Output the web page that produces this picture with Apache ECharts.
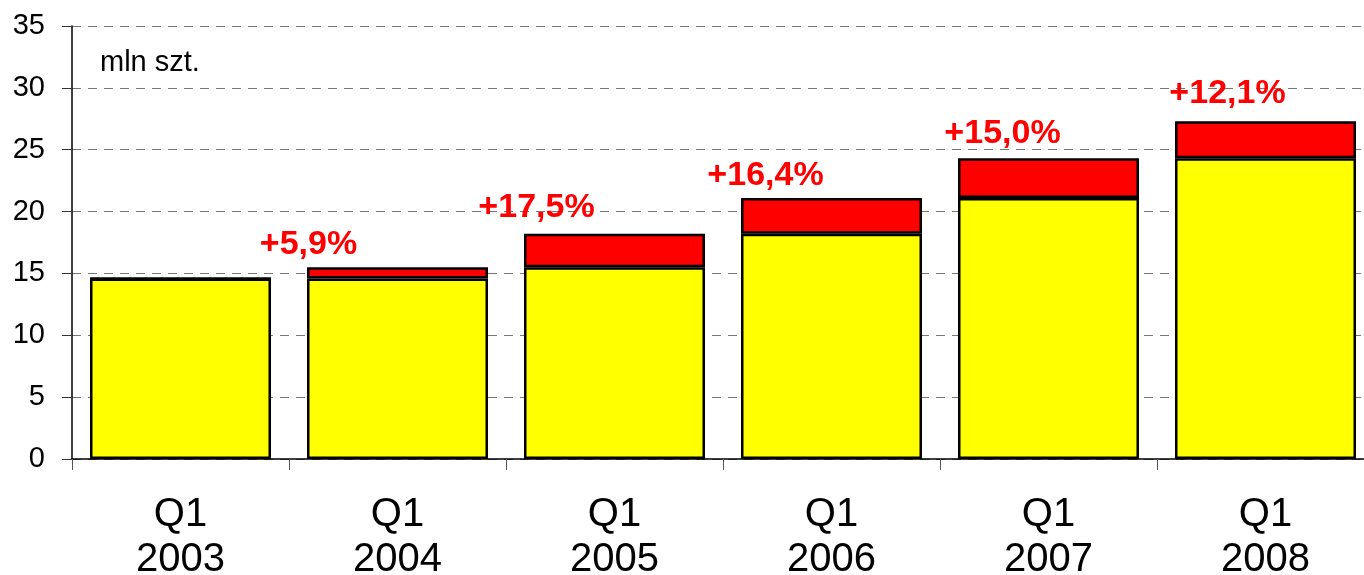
<!DOCTYPE html>
<html>
<head>
<meta charset="utf-8">
<title>mln szt.</title>
<script src="https://cdn.jsdelivr.net/npm/echarts@6/dist/echarts.min.js"></script>
<style>
  html, body { margin: 0; padding: 0; background: #fff; }
  #chart { width: 1364px; height: 575px; }
</style>
</head>
<body>
<div id="chart"></div>
<script>
  // dane
  const quarters = ['Q1\n2003', 'Q1\n2004', 'Q1\n2005', 'Q1\n2006', 'Q1\n2007', 'Q1\n2008'];
  const prevYear = [14.6, 14.6, 15.5, 18.2, 21.1, 24.3];
  const increase = [0, 0.9, 2.7, 2.9, 3.2, 3.0];
  const growth = ['', '+5,9%', '+17,5%', '+16,4%', '+15,0%', '+12,1%'];
  const yTicks = [0, 5, 10, 15, 20, 25, 30, 35];

  // przesunięcia etykiet (tylko wygląd)
  const labelShift = [[0, 0], [-89, -1], [-78, -4], [-66, 0], [-46, -3], [-38, -6]];

  const font = 'Liberation Sans, Arial, sans-serif';

  let chart = echarts.init(document.getElementById('chart'));

  let option = {
    animation: false,
    backgroundColor: '#fff',
    grid: {
      left: 72,
      right: -10,
      top: 26,
      bottom: 116,
      outerBoundsMode: 'none',
      containLabel: false
    },
    graphic: [{
      type: 'text',
      left: 100,
      top: 48,
      style: {
        text: 'mln szt.',
        fontSize: 29,
        fontFamily: font,
        fill: '#000'
      }
    }],
    xAxis: {
      type: 'category',
      data: quarters,
      axisLine: { show: true, lineStyle: { color: '#000', width: 1.5 } },
      axisTick: { show: true, alignWithLabel: false, length: 11, lineStyle: { color: '#555' } },
      axisLabel: {
        color: '#000',
        fontSize: 40,
        fontFamily: font,
        lineHeight: 45,
        margin: 33
      }
    },
    yAxis: {
      type: 'value',
      min: yTicks[0],
      max: yTicks[yTicks.length - 1],
      interval: 5,
      axisLine: { show: true, lineStyle: { color: '#000', width: 1.5 } },
      axisTick: { show: true, length: 10, lineStyle: { color: '#333' } },
      axisLabel: {
        color: '#000',
        fontSize: 29,
        fontFamily: font,
        margin: 27
      },
      splitLine: {
        show: true,
        lineStyle: { color: '#777', type: [9, 7], width: 1 }
      }
    },
    series: [
      {
        name: 'prev',
        type: 'bar',
        stack: 'total',
        barCategoryGap: '16.6%',
        data: prevYear,
        itemStyle: { color: '#FFFF00', borderColor: '#000', borderWidth: 2.5 }
      },
      {
        name: 'increase',
        type: 'bar',
        stack: 'total',
        data: increase.map((v, i) => ({
          value: v,
          label: { offset: labelShift[i] }
        })),
        itemStyle: { color: '#FF0000', borderColor: '#000', borderWidth: 2.5 },
        label: {
          show: true,
          position: 'top',
          distance: 5,
          color: '#FF0000',
          fontSize: 34,
          fontWeight: 'bold',
          fontFamily: font,
          formatter: p => growth[p.dataIndex]
        }
      }
    ]
  };

  chart.setOption(option);
</script>
</body>
</html>
